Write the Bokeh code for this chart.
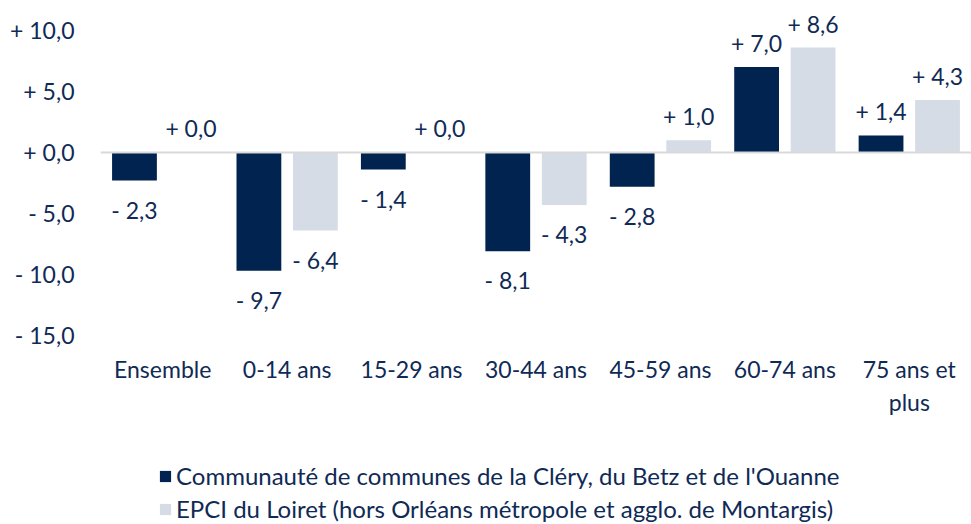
from bokeh.plotting import figure
from bokeh.layouts import column
from bokeh.models import ColumnDataSource, FixedTicker, Span, LabelSet, Legend, LegendItem
from bokeh.core.properties import value
from bokeh.transform import dodge
from bokeh.embed import file_html
from bokeh.resources import INLINE

categories = ["Ensemble", "0-14 ans", "15-29 ans", "30-44 ans", "45-59 ans", "60-74 ans", "75 ans et\nplus"]
cc_values = [-2.3, -9.7, -1.4, -8.1, -2.8, 7.0, 1.4]
epci_values = [0.0, -6.4, 0.0, -4.3, 1.0, 8.6, 4.3]
y_ticks = [-15, -10, -5, 0, 5, 10]
series_names = ["Communauté de communes de la Cléry, du Betz et de l'Ouanne",
                "EPCI du Loiret (hors Orléans métropole et agglo. de Montargis)"]

DARK = "#00234f"
LIGHT = "#d6dce5"
TEXT = "#0f2a55"
FONT = "Lato"
FS = "23px"

def fmt(v):
    s = "+ " if v >= 0 else "- "
    return s + ("%.1f" % abs(v)).replace(".", ",")

def offs(vals):
    return [24 if v >= 0 else -29 for v in vals]

src = ColumnDataSource(dict(
    cat=categories, cc=cc_values, epci=epci_values,
    cc_lab=[fmt(v) for v in cc_values], epci_lab=[fmt(v) for v in epci_values],
    cc_off=offs(cc_values), epci_off=offs(epci_values),
))

p = figure(x_range=categories, y_range=(-15.82, 11.8), width=971, height=434,
           output_backend="svg", toolbar_location=None,
           min_border_left=100, min_border_right=0, min_border_top=8, min_border_bottom=89)
p.outline_line_color = None
p.xgrid.grid_line_color = None
p.ygrid.grid_line_color = None
p.background_fill_color = "white"
p.border_fill_color = "white"

r1 = p.vbar(x=dodge("cat", -0.227, range=p.x_range), top="cc", width=0.36, source=src,
            fill_color=DARK, line_color=None)
r2 = p.vbar(x=dodge("cat", 0.227, range=p.x_range), top="epci", width=0.36, source=src,
            fill_color=LIGHT, line_color=None)

p.add_layout(Span(location=0, dimension="width", line_color="#d9d9d9", line_width=2))

for col, lab, off, dx in [("cc", "cc_lab", "cc_off", -0.227), ("epci", "epci_lab", "epci_off", 0.227)]:
    ls = LabelSet(x=dodge("cat", dx, range=p.x_range), y=col, text=lab, y_offset=off,
                  source=src, text_align="center", text_baseline="middle",
                  text_font=value(FONT), text_font_size=FS, text_color=TEXT)
    p.add_layout(ls)

# y axis
p.yaxis.ticker = FixedTicker(ticks=y_ticks)
p.yaxis.major_label_overrides = {t: fmt(t) for t in y_ticks}
p.yaxis.axis_line_color = None
p.yaxis.major_tick_line_color = None
p.yaxis.minor_tick_line_color = None
p.yaxis.major_label_standoff = 20
p.yaxis.major_label_text_font = FONT
p.yaxis.major_label_text_font_size = FS
p.yaxis.major_label_text_color = TEXT

# x axis
p.xaxis.axis_line_color = None
p.xaxis.major_tick_line_color = None
p.xaxis.minor_tick_line_color = None
p.xaxis.major_label_standoff = 3
p.xaxis.major_label_text_font = FONT
p.xaxis.major_label_text_font_size = FS
p.xaxis.major_label_text_color = TEXT

# legend panel (bars drawn out of view, only used for the legend swatches)
leg = figure(width=971, height=90, x_range=categories, y_range=(100, 101),
             output_backend="svg", toolbar_location=None,
             x_axis_location=None, y_axis_location=None, min_border=0)
leg.outline_line_color = None
leg.grid.visible = False
d1 = leg.vbar(x="cat", top="cc", width=0.36, source=src, fill_color=DARK, line_color=None)
d2 = leg.vbar(x="cat", top="epci", width=0.36, source=src, fill_color=LIGHT, line_color=None)
legend = Legend(items=[LegendItem(label=series_names[0], renderers=[d1]),
                       LegendItem(label=series_names[1], renderers=[d2])],
                orientation="vertical", location=(58, 1),
                label_text_font=FONT, label_text_font_size="24px", label_text_color=TEXT,
                glyph_width=14, glyph_height=14, label_height=24, spacing=4, padding=0, margin=0,
                label_standoff=4, border_line_color=None, background_fill_alpha=0)
leg.add_layout(legend, "center")

layout = column(p, leg, spacing=0)
open("out.html", "w").write(file_html(layout, INLINE))
